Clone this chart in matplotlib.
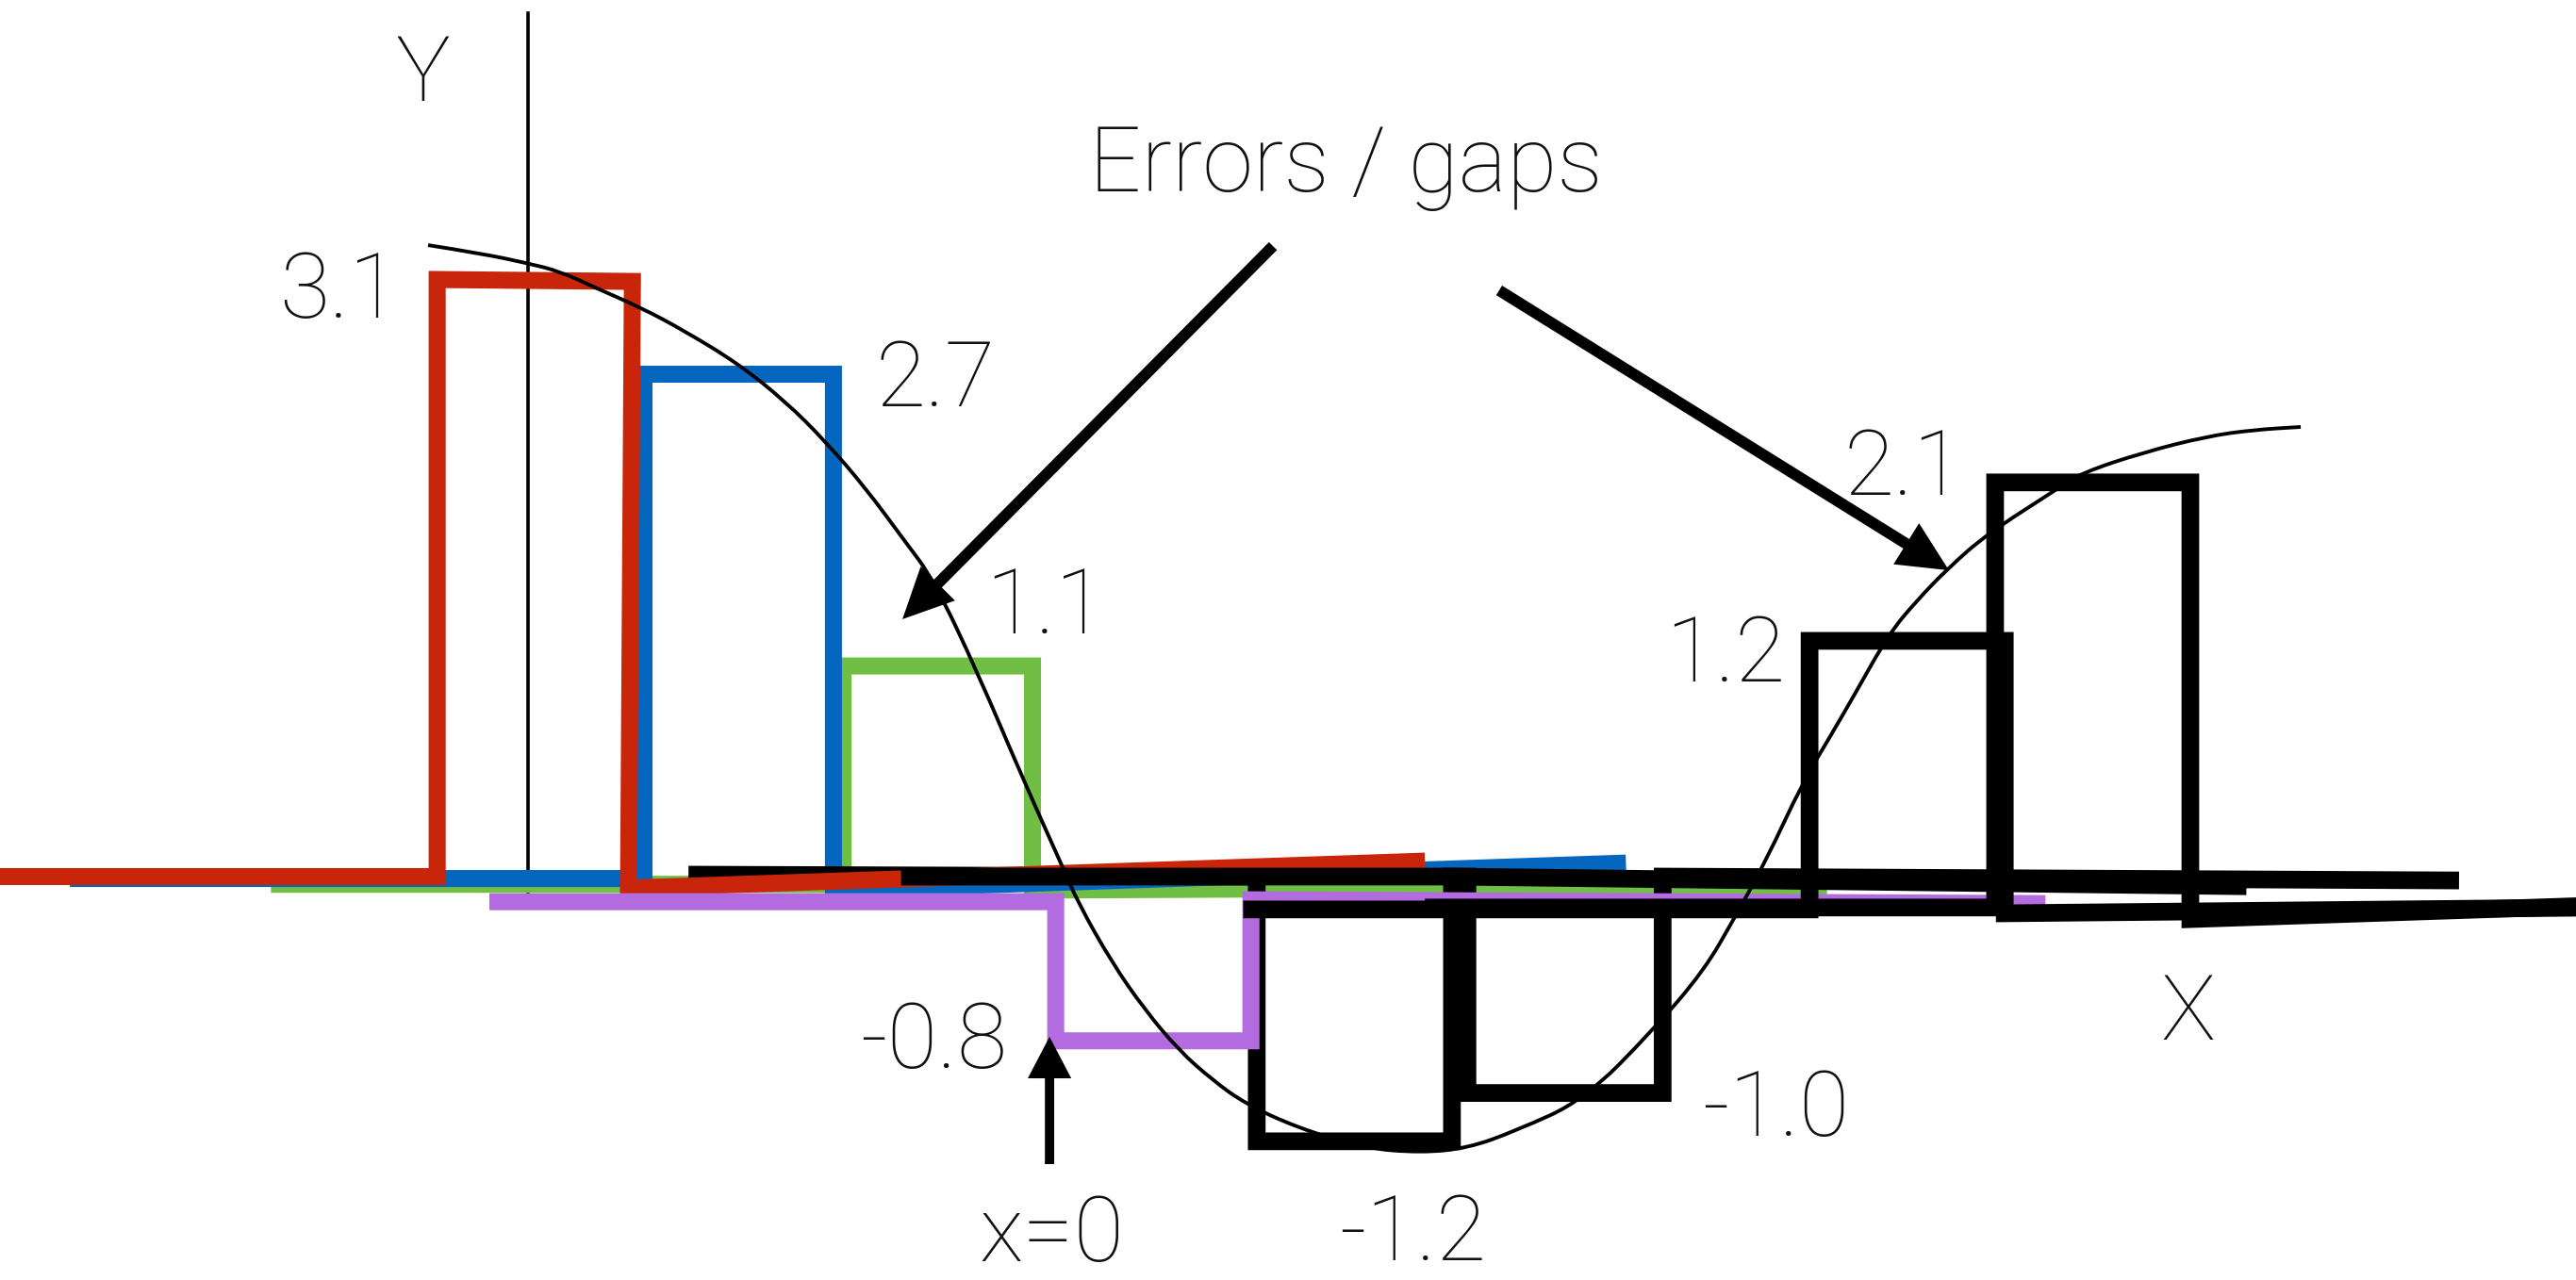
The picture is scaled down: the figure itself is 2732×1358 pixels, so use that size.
import matplotlib
matplotlib.use('Agg')
import matplotlib.pyplot as plt
from matplotlib.patches import FancyArrow, PathPatch
from matplotlib.path import Path

# canvas: same scale on both axes (205 px per unit), origin at the Y axis / main baseline
W_PX, H_PX, DPI = 2732, 1358, 100
PPU = 205.0
X0_PX, Y0_PX = 560, 930

# ---- step outlines (x in bar widths, y in value units) -----------------------
RED_X    = [-2.80, -0.47, -0.47, 0.54, 0.52, 4.64]
RED_Y    = [0.00, 0.00, 3.09, 3.08, -0.06, 0.08]
BLUE_X   = [-2.37, 0.60, 0.60, 1.58, 1.58, 5.68]
BLUE_Y   = [-0.01, -0.01, 2.60, 2.60, -0.07, 0.07]
GREEN_X  = [-1.33, 1.63, 1.63, 2.61, 2.61, 6.72]
GREEN_Y  = [-0.04, -0.04, 1.09, 1.09, -0.07, -0.05]
PURPLE_X = [-0.20, 2.73, 2.73, 3.74, 3.74, 7.85]
PURPLE_Y = [-0.13, -0.13, -0.85, -0.85, -0.12, -0.14]
BLACK1_X = [0.83, 3.77, 3.77, 4.78, 4.78, 8.89]
BLACK1_Y = [0.01, 0.00, -1.37, -1.37, 0.00, -0.05]
BLACK2_X = [1.93, 4.86, 4.86, 5.87, 5.87, 9.99]
BLACK2_Y = [0.00, 0.00, -1.12, -1.12, 0.00, -0.02]
BLACK3_X = [3.70, 6.63, 6.63, 7.64, 7.64, 10.70]
BLACK3_Y = [-0.17, -0.17, 1.22, 1.22, -0.19, -0.16]
BLACK4_X = [4.64, 7.59, 7.59, 8.60, 8.60, 10.70]
BLACK4_Y = [-0.16, -0.16, 2.04, 2.04, -0.22, -0.15]

# the smooth reference curve
CURVE_X = [-0.517, -0.239, -0.010, 0.166, 0.356, 0.581, 0.810, 1.088, 1.332, 1.542,
           1.751, 1.942, 2.098, 2.327, 2.566, 2.766, 2.844, 3.020, 3.190, 3.366,
           3.542, 3.712, 3.976, 4.322, 4.620, 4.863, 5.107, 5.463, 5.820, 6.083,
           6.244, 6.405, 6.595, 6.732, 6.863, 7.039, 7.185, 7.351, 7.546, 7.902,
           8.034, 8.356, 8.683, 8.927, 9.171]
CURVE_Y = [3.268, 3.224, 3.176, 3.132, 3.044, 2.946, 2.824, 2.654, 2.459, 2.249,
           2.005, 1.746, 1.537, 1.054, 0.493, 0.049, -0.132, -0.444, -0.688, -0.898,
           -1.054, -1.176, -1.298, -1.405, -1.429, -1.405, -1.317, -1.156, -0.795, -0.488,
           -0.210, 0.083, 0.488, 0.717, 0.942, 1.254, 1.429, 1.600, 1.771, 2.000,
           2.088, 2.195, 2.278, 2.312, 2.327]

# value labels and where they sit (baseline, centred)
BAR_LABELS = ['3.1', '2.7', '1.1', '-0.8', '-1.2', '-1.0', '1.2', '2.1']
LABEL_X    = [-0.976, 2.107, 2.678, 2.098, 4.576, 6.454, 6.195, 7.117]
LABEL_Y    = [2.893, 2.434, 1.259, -0.990, -1.985, -1.341, 1.010, 1.976]

# arrows: (start, tip)
ERR_ARROWS = [((3.854, 3.263), (1.937, 1.332)),
              ((5.024, 3.034), (7.351, 1.585))]
ZERO_ARROW = ((2.698, -1.488), (2.698, -0.829))

C_RED, C_BLUE, C_GREEN, C_PURPLE = '#c8250a', '#0566c0', '#70be44', '#b36ce0'
FONT = dict(family=['Roboto', 'DejaVu Sans'], fontweight='light',
            fontsize=70, color='#111111', ha='center', va='baseline')

fig = plt.figure(figsize=(W_PX / DPI, H_PX / DPI), dpi=DPI)
ax = fig.add_axes([0, 0, 1, 1])
ax.set_xlim(-X0_PX / PPU, (W_PX - X0_PX) / PPU)
ax.set_ylim(-(H_PX - Y0_PX) / PPU, Y0_PX / PPU)
ax.axis('off')

# Y axis
ax.plot([0, 0], [-0.098, 4.468], color='black', lw=2.6, zorder=1)

LK = dict(solid_joinstyle='miter', solid_capstyle='butt')
ax.plot(GREEN_X, GREEN_Y, color=C_GREEN, lw=13, zorder=2, **LK)
ax.plot(BLUE_X, BLUE_Y, color=C_BLUE, lw=13, zorder=3, **LK)
ax.plot(BLACK1_X, BLACK1_Y, color='black', lw=13.5, zorder=4, **LK)
ax.plot(RED_X, RED_Y, color=C_RED, lw=13, zorder=5, **LK)
ax.plot(BLACK2_X, BLACK2_Y, color='black', lw=13.5, zorder=6, **LK)
ax.plot(PURPLE_X, PURPLE_Y, color=C_PURPLE, lw=13, zorder=7, **LK)
ax.plot(BLACK3_X, BLACK3_Y, color='black', lw=13.5, zorder=8, **LK)
ax.plot(BLACK4_X, BLACK4_Y, color='black', lw=13.5, zorder=9, **LK)

# curve: read points used as quadratic-bezier control points so it renders smooth
pts = list(zip(CURVE_X, CURVE_Y))
verts, codes = [pts[0]], [Path.MOVETO]
for p, q in zip(pts[1:-1], pts[2:]):
    verts += [p, ((p[0] + q[0]) / 2, (p[1] + q[1]) / 2)]
    codes += [Path.CURVE3, Path.CURVE3]
verts.append(pts[-1]); codes.append(Path.LINETO)
ax.add_patch(PathPatch(Path(verts, codes), fill=False, edgecolor='black',
                       lw=2.8, capstyle='butt', zorder=10))

# arrows
for (x0, y0), (x1, y1) in ERR_ARROWS:
    ax.add_patch(FancyArrow(x0, y0, x1 - x0, y1 - y0, width=0.058,
                            head_width=0.25, head_length=0.26,
                            length_includes_head=True, color='black', lw=0, zorder=11))
(zx0, zy0), (zx1, zy1) = ZERO_ARROW
ax.add_patch(FancyArrow(zx0, zy0, zx1 - zx0, zy1 - zy0, width=0.048,
                        head_width=0.225, head_length=0.215,
                        length_includes_head=True, color='black', lw=0, zorder=11))

# texts
for lab, lx, ly in zip(BAR_LABELS, LABEL_X, LABEL_Y):
    ax.text(lx, ly, lab, zorder=12, **FONT)
ax.text(-0.546, 4.015, 'Y', zorder=12, **FONT)
ax.text(8.590, -0.844, 'X', zorder=12, **FONT)
ax.text(2.707, -1.990, 'x=0', zorder=12, **FONT)
ax.text(4.229, 3.546, 'Errors / gaps', zorder=12, **FONT)

fig.savefig('out.png', dpi=DPI, facecolor='white')
